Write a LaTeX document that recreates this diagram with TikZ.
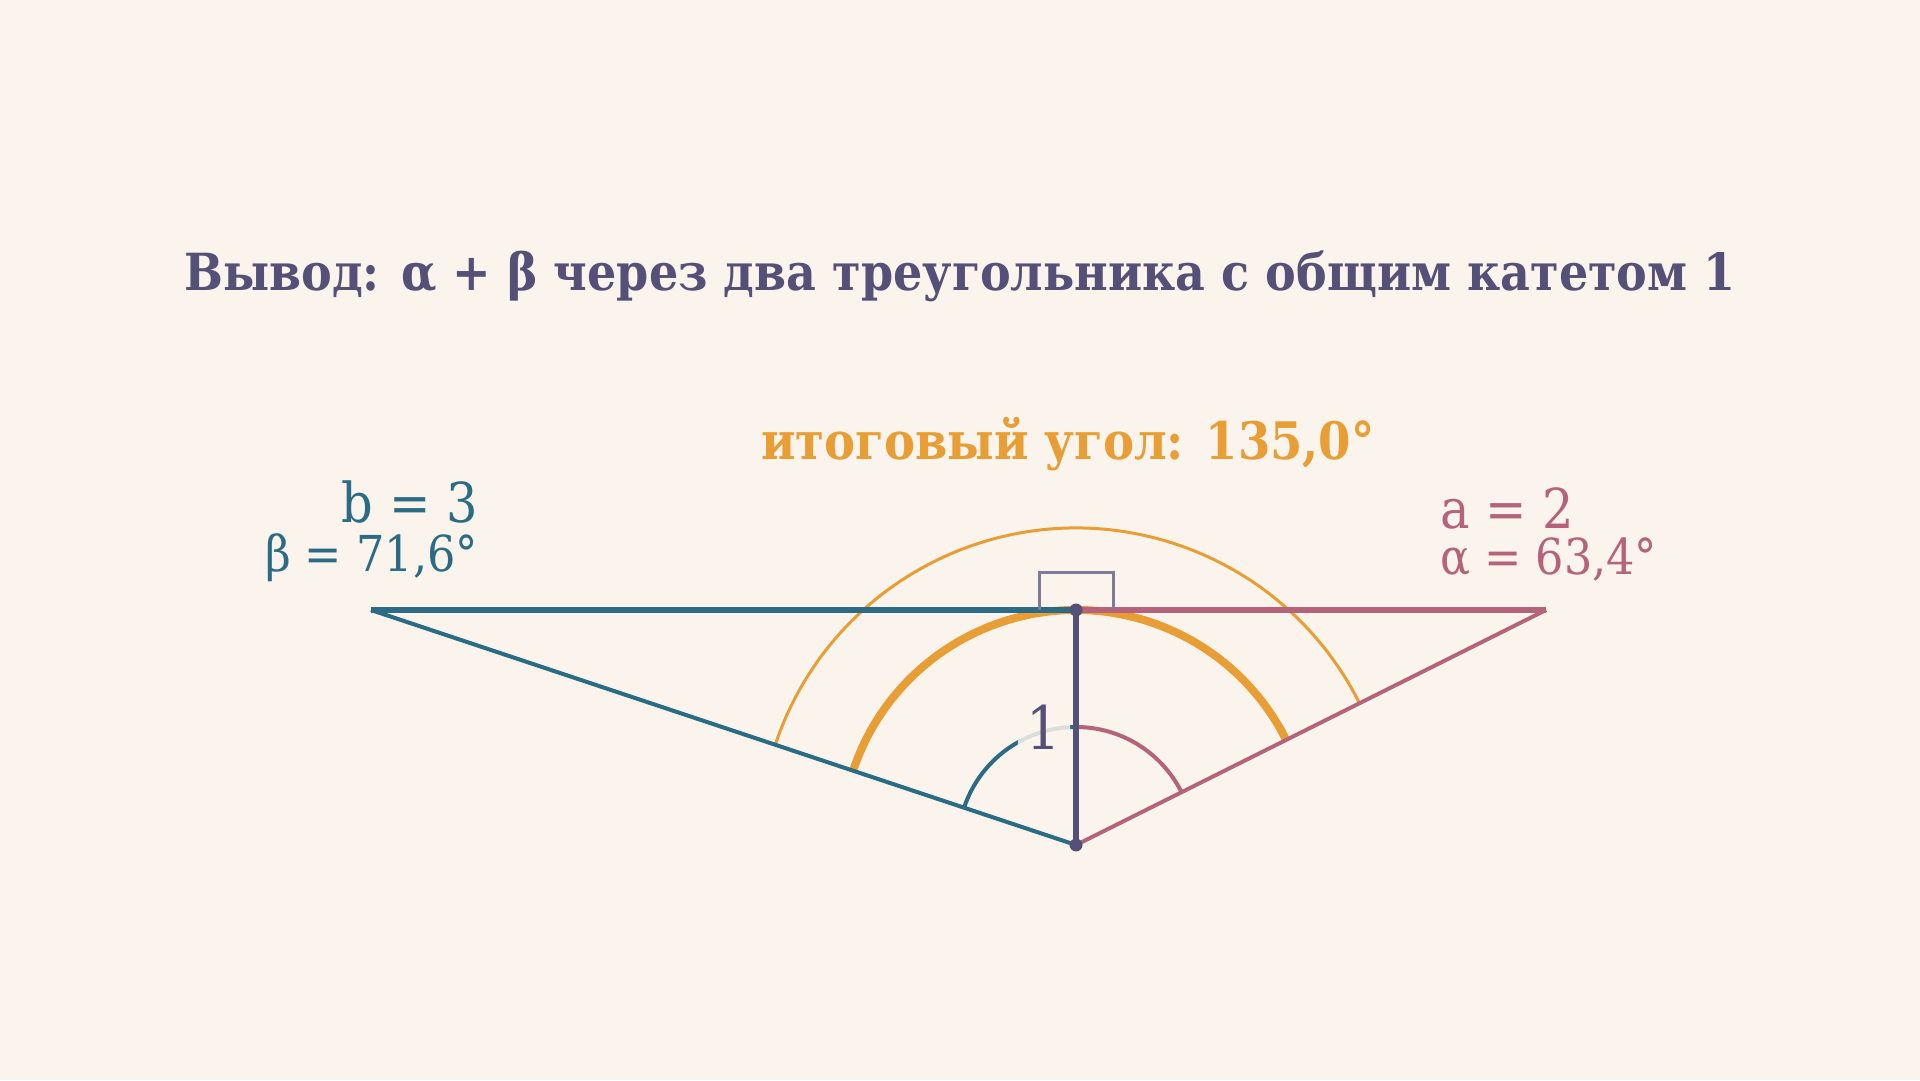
\documentclass[tikz,border=0pt]{standalone}
\usepackage{fontspec}
\setmainfont{DejaVu Serif Condensed}
\usepackage{tikz}
\usepackage{color}
\usetikzlibrary{positioning}

\definecolor{bgcolor}{HTML}{FAF4EC}
\definecolor{darkleg}{HTML}{555078}
\definecolor{blueleg}{HTML}{2B6B85}
\definecolor{pinkleg}{HTML}{B5637A}
\definecolor{orangearc}{HTML}{E89E35}
\definecolor{markgray}{HTML}{7F7A9A}

\begin{document}
\begin{tikzpicture}[x=1pt, y=1pt,
    leg/.style={line width=5.5pt},
    hyp/.style={line width=4pt},
    anglearc/.style={line width=4pt},
    vertex/.style={circle, fill=darkleg, inner sep=0pt, minimum size=13pt},
    biglabel/.style={inner sep=0pt, font=\fontsize{55}{60}\selectfont},
    smalllabel/.style={inner sep=0pt, font=\fontsize{49.5}{52}\selectfont}]
    % BACKGROUND
    \fill[bgcolor] (0,0) rectangle (1920,1080);
    \useasboundingbox (0,0) rectangle (1920,1080);

    % TITLE
    \node[anchor=base, inner sep=0pt, text=darkleg,
      font=\bfseries\fontsize{51.2}{56}\selectfont] (TITLE) at (960,789)
    {Вывод: α + β через два треугольника с общим катетом 1};

    % POINTS
    \coordinate (BOTTOM) at (1076,235);
    \coordinate (TOP) at (1076,470);
    \coordinate (LEFT_END) at (371,470);
    \coordinate (RIGHT_END) at (1546,470);

    % ANGLE ARCS
    \draw[orangearc, line width=3pt] (BOTTOM) ++(161.565:317)
      arc[start angle=161.565, end angle=26.565, radius=317];
    \draw[orangearc, line width=8pt] (BOTTOM) ++(161.565:235)
      arc[start angle=161.565, end angle=26.565, radius=235];
    \draw[blueleg, anglearc] (BOTTOM) ++(161.565:118)
      arc[start angle=161.565, end angle=90, radius=118];
    \draw[pinkleg, anglearc] (BOTTOM) ++(90:118)
      arc[start angle=90, end angle=26.565, radius=118];

    % LEG LABEL
    \node[anchor=base, inner sep=9pt, fill=bgcolor, fill opacity=0.85,
      text opacity=1, rounded corners=10pt, text=darkleg,
      font=\fontsize{60}{60}\selectfont] (LEG_ONE) at (1044,330) {1};

    % TRIANGLES
    \draw[blueleg, hyp] (LEFT_END) -- (BOTTOM);
    \draw[pinkleg, hyp] (RIGHT_END) -- (BOTTOM);
    \draw[blueleg, leg] (LEFT_END) -- (TOP);
    \draw[pinkleg, leg] (TOP) -- (RIGHT_END);
    \draw[darkleg, leg] (TOP) -- (BOTTOM);

    % RIGHT ANGLE MARK
    \draw[markgray, line width=3pt] (TOP) ++(-37,0) -- ++(0,37) -- ++(74,0) -- ++(0,-37);

    \node[vertex] (TOP_DOT) at (TOP) {};
    \node[vertex] (BOTTOM_DOT) at (BOTTOM) {};

    % SIDE LABELS
    \node[biglabel, anchor=base east, text=blueleg] (B_LABEL) at (478,557) {b = 3};
    \node[smalllabel, anchor=base east, text=blueleg] (BETA_LABEL) at (478,508) {β = 71,6°};
    \node[biglabel, anchor=base west, text=pinkleg] (A_LABEL) at (1440,551) {a = 2};
    \node[smalllabel, anchor=base west, text=pinkleg] (ALPHA_LABEL) at (1440,505) {α = 63,4°};

    % TOTAL ANGLE
    \node[anchor=base, inner sep=0pt, text=orangearc,
      font=\bfseries\fontsize{51.7}{56}\selectfont] (TOTAL_ANGLE) at (1068,620)
    {итоговый угол: 135,0°};
  \end{tikzpicture}
\end{document}
